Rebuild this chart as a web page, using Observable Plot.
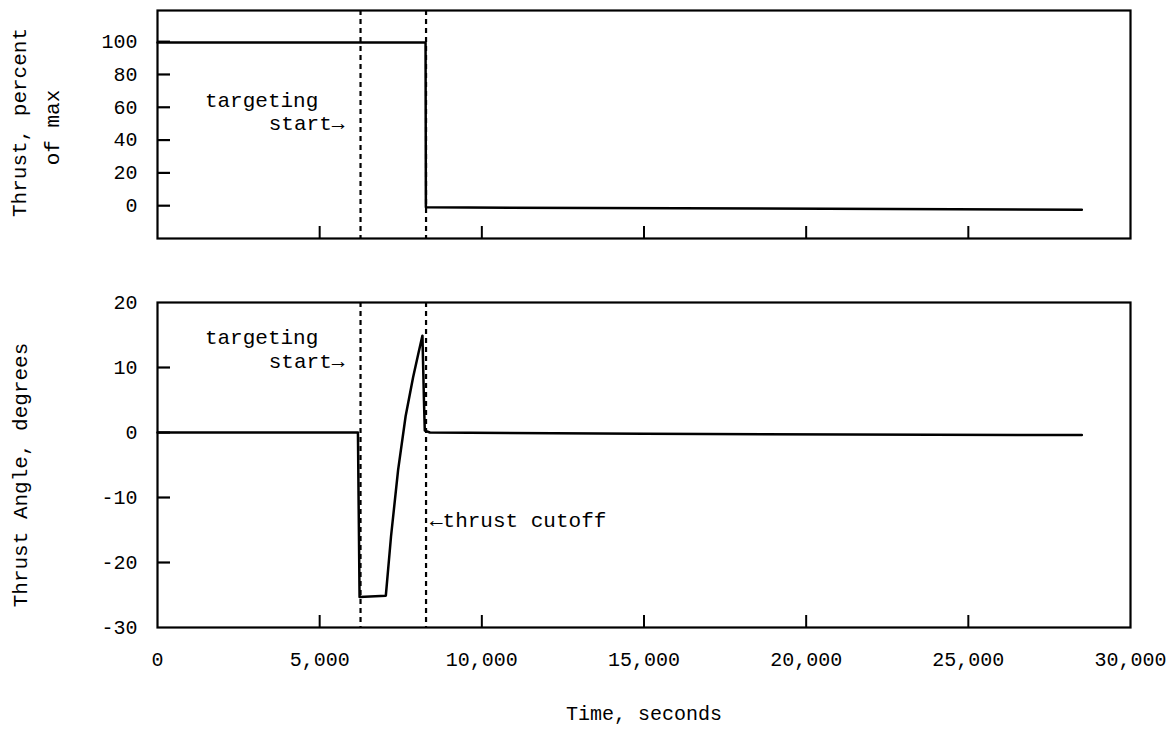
<!DOCTYPE html>
<html><head><meta charset="utf-8">
<script src="https://cdn.jsdelivr.net/npm/d3@7"></script>
<script src="https://cdn.jsdelivr.net/npm/@observablehq/plot@0.6"></script>
<style>body{margin:0;background:#fff} #chart svg{display:block}</style>
</head><body><div id="chart"></div>
<script>
// ---- data ----
const thrustTime = [0, 8265, 8275, 28500];
const thrustPct  = [99.5, 99.5, -1, -2.5];

const angleTime = [0, 6180, 6230, 7040, 7200, 7418, 7650, 7881, 8050, 8169, 8215, 8241, 8400, 15000, 28500];
const angleDeg  = [0, 0, -25.3, -25.1, -16, -5.8, 2.5, 8.5, 12.3, 14.9, 5, 0.3, 0, -0.2, -0.4];

const eventTime = [6260, 8280];          // targeting start, thrust cutoff
const xTicks = [0, 5000, 10000, 15000, 20000, 25000, 30000];
const xInnerTicks = [5000, 10000, 15000, 20000, 25000];
const thrustTicks = [0, 20, 40, 60, 80, 100];
const angleTicks = [-30, -20, -10, 0, 10, 20];
const angleInnerTicks = [-20, -10, 0, 10];

const topNotes = [
  {t: 3210, v: 64.5, s: "targeting", a: "middle"},
  {t: 3430, v: 50, s: "start\u2192", a: "start"}
];
const bottomNotes = [
  {t: 3210, v: 14.6, s: "targeting", a: "middle"},
  {t: 3430, v: 10.9, s: "start\u2192", a: "start"},
  {t: 8400, v: -13.5, s: "\u2190thrust cutoff", a: "start"}
];

const thrustData = thrustTime.map((t, i) => ({t, v: thrustPct[i]}));
const angleData = angleTime.map((t, i) => ({t, v: angleDeg[i]}));

const W = 1175, ML = 157, MR = 45;
const FW = W - ML - MR;
const font = {fontFamily: "'Liberation Mono', 'DejaVu Sans Mono', monospace", fontSize: "20px", color: "#000", background: "#fff"};
const ink = "#000";
const lw = 2.5;

// ---- top panel ----
const topH = 250, topMT = 10, topMB = 12, topFH = topH - topMT - topMB;
const topPlot = Plot.plot({
  width: W, height: topH,
  marginLeft: ML, marginRight: MR, marginTop: topMT, marginBottom: topMB,
  style: font,
  x: {domain: [0, 30000], axis: null},
  y: {domain: [-20, 119], ticks: thrustTicks, tickSize: 0, tickPadding: 20, label: null, tickFormat: d => String(d)},
  marks: [
    Plot.frame({stroke: ink, strokeWidth: 2.2}),
    Plot.tickX(xInnerTicks, {x: d => d, stroke: ink, strokeWidth: 2, insetTop: topFH - 12}),
    Plot.tickY(thrustTicks, {y: d => d, stroke: ink, strokeWidth: 2.2, insetRight: FW - 13}),
    Plot.ruleX(eventTime, {x: d => d, stroke: ink, strokeWidth: 2.2, strokeDasharray: "5,4"}),
    Plot.line(thrustData, {x: "t", y: "v", stroke: ink, strokeWidth: lw}),
    Plot.text(topNotes, {x: "t", y: "v", text: "s", textAnchor: "start", fill: ink, fontSize: 21, filter: d => d.a === "start"}),
    Plot.text(topNotes, {x: "t", y: "v", text: "s", textAnchor: "middle", fill: ink, fontSize: 21, filter: d => d.a === "middle"}),
    Plot.text(["Thrust, percent"], {frameAnchor: "left", textAnchor: "middle", dx: -138, dy: -2, rotate: -90, fill: ink, fontSize: 21}),
    Plot.text(["of max"], {frameAnchor: "left", textAnchor: "middle", dx: -105, dy: 3, rotate: -90, fill: ink, fontSize: 21})
  ]
});

// ---- bottom panel ----
const botH = 732 - topH, botMT = 52, botMB = 105, botFH = botH - botMT - botMB;
const bottomPlot = Plot.plot({
  width: W, height: botH,
  marginLeft: ML, marginRight: MR, marginTop: botMT, marginBottom: botMB,
  style: font,
  x: {domain: [0, 30000], ticks: xTicks, tickSize: 0, tickPadding: 24, tickFormat: d3.format(","), label: null},
  y: {domain: [-30, 20], ticks: angleTicks, tickSize: 0, tickPadding: 20, label: null, tickFormat: d => String(d)},
  marks: [
    Plot.frame({stroke: ink, strokeWidth: 2.2}),
    Plot.tickX(xInnerTicks, {x: d => d, stroke: ink, strokeWidth: 2, insetTop: botFH - 12}),
    Plot.tickY(angleInnerTicks, {y: d => d, stroke: ink, strokeWidth: 2.2, insetRight: FW - 13}),
    Plot.ruleX(eventTime, {x: d => d, stroke: ink, strokeWidth: 2.2, strokeDasharray: "5,4"}),
    Plot.line(angleData, {x: "t", y: "v", stroke: ink, strokeWidth: lw}),
    Plot.text(bottomNotes, {x: "t", y: "v", text: "s", textAnchor: "start", fill: ink, fontSize: 21, filter: d => d.a === "start"}),
    Plot.text(bottomNotes, {x: "t", y: "v", text: "s", textAnchor: "middle", fill: ink, fontSize: 21, filter: d => d.a === "middle"}),
    Plot.text(["Thrust Angle, degrees"], {frameAnchor: "left", textAnchor: "middle", dx: -137, dy: 10, rotate: -90, fill: ink, fontSize: 21}),
    Plot.text(["Time, seconds"], {frameAnchor: "bottom", dy: 92, fill: ink, fontSize: 20})
  ]
});

const el = document.getElementById("chart");
el.appendChild(topPlot);
el.appendChild(bottomPlot);
</script>
</body></html>
